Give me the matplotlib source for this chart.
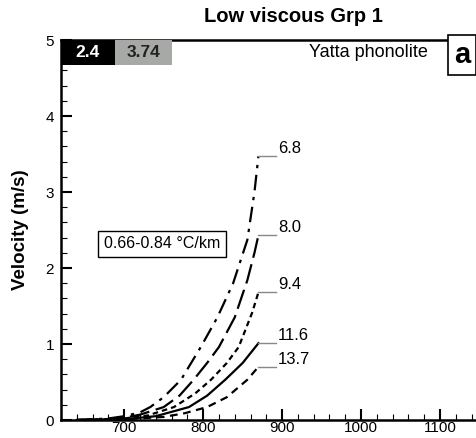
import matplotlib
matplotlib.use('Agg')
import matplotlib.pyplot as plt
from matplotlib.patches import Rectangle
from matplotlib.ticker import MultipleLocator

plt.rcParams['font.family'] = ['Liberation Sans', 'DejaVu Sans']

#%% data
t_68 = [640, 680, 700, 720, 733, 750, 772, 797, 818, 838, 856, 865, 870]
v_68 = [0.0, 0.02, 0.05, 0.10, 0.17, 0.30, 0.53, 0.96, 1.35, 1.80, 2.37, 3.00, 3.47]

t_80 = [640, 680, 700, 720, 750, 770, 788, 805, 820, 840, 856, 865, 870]
v_80 = [0.0, 0.01, 0.03, 0.07, 0.17, 0.32, 0.53, 0.75, 0.96, 1.35, 1.84, 2.20, 2.43]

t_94 = [640, 700, 730, 763, 790, 810, 830, 845, 862, 870]
v_94 = [0.0, 0.02, 0.06, 0.17, 0.35, 0.53, 0.75, 0.96, 1.41, 1.68]

t_116 = [640, 700, 740, 782, 805, 828, 850, 870]
v_116 = [0.0, 0.01, 0.05, 0.17, 0.32, 0.53, 0.75, 1.01]

t_137 = [640, 700, 750, 777, 805, 830, 856, 870]
v_137 = [0.0, 0.01, 0.04, 0.09, 0.17, 0.30, 0.53, 0.70]

labels = ['6.8', '8.0', '9.4', '11.6', '13.7']
styles = [(0, (7, 3, 1.5, 3)), (0, (9, 3)), (0, (2.5, 1.8)), '-', (0, (3.5, 2.5))]

#%% figure
fig = plt.figure(figsize=(4.77, 4.38), dpi=100)
ax = fig.add_axes([61/477, 18/438, (519-61)/477, 380/438])

curves = [(t_68, v_68), (t_80, v_80), (t_94, v_94), (t_116, v_116), (t_137, v_137)]
for (t, v), lab, ls in zip(curves, labels, styles):
    ax.plot(t, v, color='black', linestyle=ls, linewidth=1.6)
    ax.plot([t[-1], t[-1] + 22], [v[-1], v[-1]], color='#888888', linewidth=1)
    ax.text(t[-1] + 25, v[-1] + 0.1, lab, fontsize=12, va='center', ha='left')

ax.set_xlim(620, 1200)
ax.set_ylim(0, 5)
ax.xaxis.set_major_locator(MultipleLocator(100))
ax.xaxis.set_minor_locator(MultipleLocator(20))
ax.yaxis.set_major_locator(MultipleLocator(1))
ax.yaxis.set_minor_locator(MultipleLocator(0.2))
ax.set_xticks([700, 800, 900, 1000, 1100])
ax.tick_params(which='major', direction='in', length=8, width=1.5, labelsize=11)
ax.tick_params(axis='x', which='major', pad=1)
ax.tick_params(axis='y', which='major', pad=5)
ax.tick_params(which='minor', direction='in', length=4, width=0.8)
for s in ax.spines.values():
    s.set_linewidth(1.8)

ax.set_ylabel('Velocity (m/s)', fontsize=13.5, fontweight='bold', labelpad=12)
fig.text(293/477, 1 - 16/438, 'Low viscous Grp 1', fontsize=14.5, fontweight='bold',
         ha='center', va='center')

# boxes at top
ax.add_patch(Rectangle((620, 4.67), 68, 0.33, facecolor='black', edgecolor='none', zorder=5))
ax.add_patch(Rectangle((688, 4.67), 72, 0.33, facecolor='#a7a9a6', edgecolor='none', zorder=5))
ax.text(654, 4.835, '2.4', color='white', fontsize=12.5, fontweight='bold', ha='center', va='center', zorder=6)
ax.text(724, 4.835, '3.74', color='#222222', fontsize=12.5, fontweight='bold', ha='center', va='center', zorder=6)
ax.text(1009, 4.83, 'Yatta phonolite', fontsize=13, ha='center', va='center')
fig.text(462/477, 1 - 55/438, 'a', fontsize=21, fontweight='bold', ha='center', va='center',
         bbox=dict(boxstyle='square,pad=0.2', facecolor='white', edgecolor='black', linewidth=1.2))

ax.text(748, 2.32, '0.66-0.84 \u00b0C/km', fontsize=11.5, ha='center', va='center',
        bbox=dict(boxstyle='square,pad=0.35', facecolor='white', edgecolor='black', linewidth=1))

fig.savefig('out.png', dpi=100)
